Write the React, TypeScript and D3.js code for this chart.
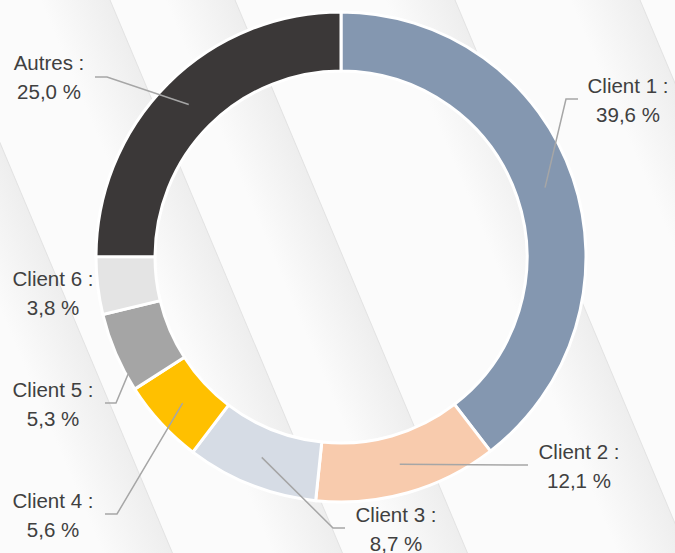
import { useMemo } from "react";
import * as d3 from "d3";

const WIDTH = 675;
const HEIGHT = 553;
const CENTER = { x: 341, y: 257 };
const OUTER_RADIUS = 245;
const INNER_RADIUS = 186;

const CATEGORIES = ["Client 1", "Client 2", "Client 3", "Client 4", "Client 5", "Client 6", "Autres"];
const SHARES = [39.6, 12.1, 8.7, 5.6, 5.3, 3.8, 25.0];
const COLORS = ["#8497B0", "#F8CBAD", "#D6DCE5", "#FFC000", "#A5A5A5", "#E4E4E4", "#3B3838"];

// where each label sits (centre x, first baseline) and where its leader starts
type LabelPos = {
  x: number;
  y: number;
  leader: [number, number][] | null;
  target: "centroid" | "edge";
};
const LABEL_POS: LabelPos[] = [
  { x: 628, y: 93, leader: [[578, 99], [566, 99]], target: "centroid" },
  { x: 579, y: 459, leader: [[528, 465]], target: "centroid" },
  { x: 396, y: 522, leader: [[345, 528], [333, 528]], target: "centroid" },
  { x: 53, y: 508, leader: [[105, 514], [117, 514]], target: "centroid" },
  { x: 53, y: 397, leader: [[105, 403], [116, 403]], target: "edge" },
  { x: 53, y: 286, leader: null, target: "centroid" },
  { x: 49, y: 70, leader: [[95, 77], [107, 77]], target: "centroid" },
];

// background sheen: x of each stripe edge at the top of the picture
const STRIPE_EDGES = [-60, 110, 235, 455, 640];
const STRIPE_SKEW = 22.8;
const STRIPE_FADE = 70;

const fmt = (v: number) => d3.format(".1f")(v).replace(".", ",") + " %";

export default function App() {
  const slices = useMemo(
    () =>
      d3
        .pie<number>()
        .sort(null)
        .value((d) => d)(SHARES),
    []
  );

  const arc = d3
    .arc<d3.PieArcDatum<number>>()
    .innerRadius(INNER_RADIUS)
    .outerRadius(OUTER_RADIUS);

  const leaderTarget = (i: number): [number, number] => {
    const s = slices[i];
    if (LABEL_POS[i].target === "edge") {
      const a = s.startAngle + 0.2 * (s.endAngle - s.startAngle);
      const r = OUTER_RADIUS - 2;
      return [CENTER.x + r * Math.sin(a), CENTER.y - r * Math.cos(a)];
    }
    const [cx, cy] = arc.centroid(s);
    return [CENTER.x + cx, CENTER.y + cy];
  };

  return (
    <svg
      width={WIDTH}
      height={HEIGHT}
      style={{ position: "fixed", left: 0, top: 0, display: "block" }}
      fontFamily="'Liberation Sans', Arial, sans-serif"
    >
      <defs>
        <linearGradient id="sheen" x1="0" x2="1" y1="0" y2="0">
          <stop offset="0%" stopColor="#e8e8e8" stopOpacity={0} />
          <stop offset="100%" stopColor="#e8e8e8" stopOpacity={0.7} />
        </linearGradient>
      </defs>
      <rect width={WIDTH} height={HEIGHT} fill="#fbfbfb" />
      <g transform={`skewX(${STRIPE_SKEW})`}>
        {STRIPE_EDGES.map((e, i) => (
          <g key={i}>
            <rect x={e - STRIPE_FADE} y={0} width={STRIPE_FADE} height={HEIGHT} fill="url(#sheen)" />
            <line x1={e} x2={e} y1={0} y2={HEIGHT} stroke="#e2e2e2" strokeWidth={1} />
          </g>
        ))}
      </g>

      <g transform={`translate(${CENTER.x},${CENTER.y})`}>
        {slices.map((s, i) => (
          <path key={CATEGORIES[i]} d={arc(s) ?? ""} fill={COLORS[i]} stroke="#ffffff" strokeWidth={3} />
        ))}
      </g>

      {LABEL_POS.map((p, i) => {
        if (!p.leader) return null;
        const pts = [...p.leader, leaderTarget(i)];
        return (
          <path
            key={`leader-${i}`}
            d={d3.line()(pts) ?? ""}
            fill="none"
            stroke="#A6A6A6"
            strokeWidth={1.5}
          />
        );
      })}

      {LABEL_POS.map((p, i) => (
        <text key={`label-${i}`} x={p.x} y={p.y} textAnchor="middle" fontSize={20.5} fill="#404040">
          <tspan x={p.x}>{CATEGORIES[i]} :</tspan>
          <tspan x={p.x} dy={29}>
            {fmt(SHARES[i])}
          </tspan>
        </text>
      ))}
    </svg>
  );
}
